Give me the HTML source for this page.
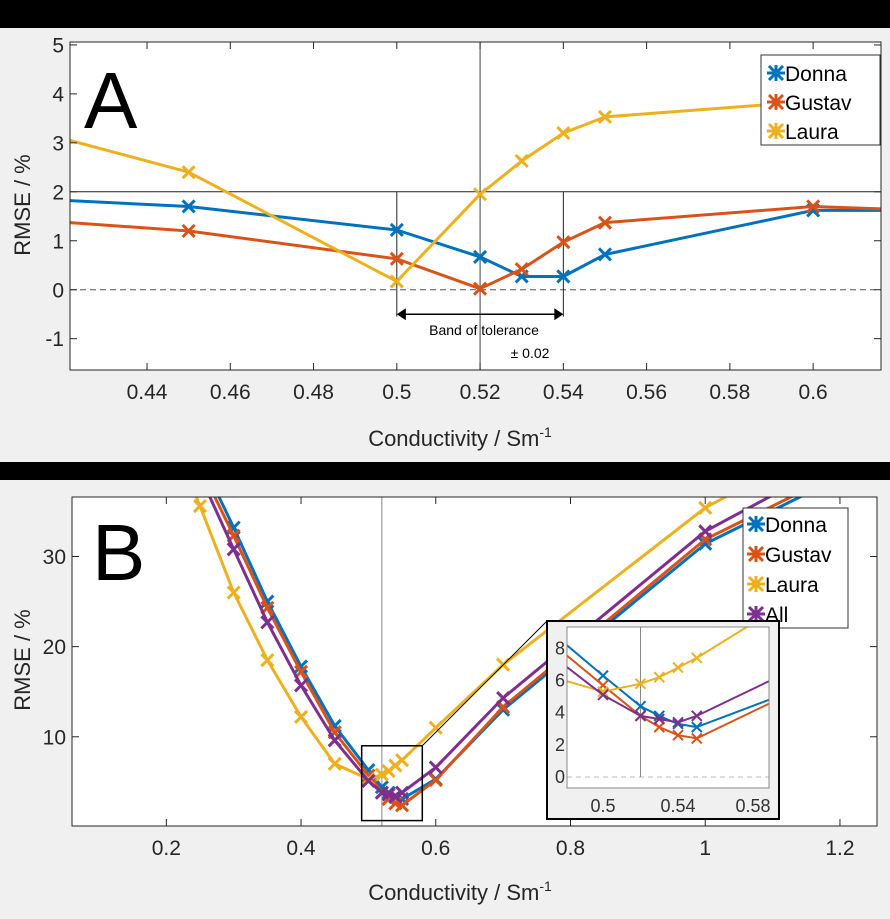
<!DOCTYPE html>
<html><head><meta charset="utf-8"><style>
html,body{margin:0;padding:0;background:#000;}
svg{display:block;font-family:"Liberation Sans",sans-serif;}
</style></head><body>
<svg id="s" width="890" height="919" viewBox="0 0 890 919" xmlns="http://www.w3.org/2000/svg">
<rect x="0" y="0" width="890" height="919" fill="#000"/>
<rect x="0" y="28" width="890" height="434" fill="#f0f0f0"/>
<rect x="0" y="480" width="890" height="439" fill="#f0f0f0"/>
</svg>
<script>
// ---------- Panel A data ----------
const aX = [0.40, 0.45, 0.50, 0.52, 0.53, 0.54, 0.55, 0.60, 0.65];
const aDonna = [1.91, 1.70, 1.22, 0.67, 0.27, 0.27, 0.72, 1.62, 1.62];
const aGustav = [1.50, 1.20, 0.63, 0.02, 0.42, 0.97, 1.37, 1.70, 1.55];
const aLaura = [3.54, 2.40, 0.17, 1.95, 2.63, 3.20, 3.53, 3.85, 3.63];
const aXTicks = [0.44, 0.46, 0.48, 0.5, 0.52, 0.54, 0.56, 0.58, 0.6];
const aYTicks = [-1, 0, 1, 2, 3, 4, 5];
// ---------- Panel B data ----------
const bX = [0.20, 0.25, 0.30, 0.35, 0.40, 0.45, 0.50, 0.52, 0.53, 0.54, 0.55, 0.60, 0.70, 1.00, 1.20];
const bDonna = [50, 41, 33.2, 25.0, 17.8, 11.2, 6.3, 4.4, 3.8, 3.3, 3.1, 5.3, 13.0, 31.4, 38.8];
const bGustav = [49, 40, 32.3, 24.3, 17.2, 10.5, 5.7, 3.8, 3.1, 2.6, 2.4, 5.2, 13.3, 31.9, 39.3];
const bLaura = [45, 35.6, 26.0, 18.5, 12.2, 7.0, 5.3, 5.8, 6.2, 6.8, 7.4, 11.0, 18.0, 35.4, 43.4];
const bAll = [48, 39, 30.8, 22.7, 15.7, 9.6, 5.1, 3.8, 3.6, 3.4, 3.8, 6.6, 14.3, 32.8, 40.8];
const bXTicks = [0.2, 0.4, 0.6, 0.8, 1.0, 1.2];
const bYTicks = [10, 20, 30];
const insetXTicks = [0.5, 0.54, 0.58];
const insetYTicks = [0, 2, 4, 6, 8];
const seriesNames = ["Donna", "Gustav", "Laura", "All"];
const colors = ["#0072BD", "#D95319", "#EDB120", "#7E2F8E"];

const NS = "http://www.w3.org/2000/svg";
const svg = document.getElementById('s');
function mk(tag, attrs, parent) {
  const e = document.createElementNS(NS, tag);
  for (const k in attrs) e.setAttribute(k, attrs[k]);
  (parent || svg).appendChild(e);
  return e;
}
function scale(d0, d1, r0, r1) { return v => r0 + (v - d0) / (d1 - d0) * (r1 - r0); }
function fmt(v) { return String(+v.toFixed(2)); }

function drawSeries(g, xs, ys, sx, sy, color, name, ms, lw, clipId) {
  const lg = mk('g', { 'clip-path': 'url(#' + clipId + ')' }, g);
  
  
  const pts = xs.map((x, i) => sx(x).toFixed(1) + ',' + sy(ys[i]).toFixed(1)).join(' ');
  const pl = mk('polyline', { points: pts, fill: 'none', stroke: color, 'stroke-width': lw, 'stroke-linejoin': 'round' }, lg);
  
  
  xs.forEach((x, i) => {
    const cx = sx(x), cy = sy(ys[i]);
    const m = mk('path', { d: `M${cx - ms},${cy - ms}L${cx + ms},${cy + ms}M${cx - ms},${cy + ms}L${cx + ms},${cy - ms}`, stroke: color, 'stroke-width': lw, fill: 'none' }, lg);
    
    
  });
}

function axesFrame(L, T, R, B, xt, yt, sx, sy, fs, tickLen, prefix) {
  const f = mk('rect', { x: L, y: T, width: R - L, height: B - T, fill: 'none', stroke: '#262626', 'stroke-width': 1 });
  
  
  xt.forEach(v => {
    const x = sx(v);
    mk('line', { x1: x, y1: B, x2: x, y2: B - tickLen, stroke: '#262626' });
    mk('line', { x1: x, y1: T, x2: x, y2: T + tickLen, stroke: '#262626' });
    const t = mk('text', { x: x, y: B + fs + 8, 'font-size': fs, 'text-anchor': 'middle', fill: '#262626' });
    t.textContent = fmt(v);
    
    
  });
  yt.forEach(v => {
    const y = sy(v);
    mk('line', { x1: L, y1: y, x2: L + tickLen, y2: y, stroke: '#262626' });
    mk('line', { x1: R, y1: y, x2: R - tickLen, y2: y, stroke: '#262626' });
    const t = mk('text', { x: L - 6, y: y + fs * 0.36, 'font-size': fs, 'text-anchor': 'end', fill: '#262626' });
    t.textContent = fmt(v);
    
    
  });
}
const defs = mk('defs', {});
function clip(id, L, T, R, B) {
  const c = mk('clipPath', { id: id }, defs);
  mk('rect', { x: L, y: T, width: R - L, height: B - T }, c);
}

// ================= Panel A =================
(function () {
  const L = 70, R = 881, T = 42, B = 370;
  const sx = scale(0.4215, 0.6163, L, R);
  const sy = scale(-1.64, 5.06, B, T);
  mk('rect', { x: L, y: T, width: R - L, height: B - T, fill: '#fff' });
  clip('clipA', L, T, R, B);
  const g = mk('g', {});
  
  
  mk('line', { x1: L, y1: sy(0), x2: R, y2: sy(0), stroke: '#555', 'stroke-dasharray': '6,4', 'stroke-width': 1 }, g);
  mk('line', { x1: L, y1: sy(2), x2: R, y2: sy(2), stroke: '#222', 'stroke-width': 1 }, g);
  mk('line', { x1: sx(0.52), y1: T, x2: sx(0.52), y2: B, stroke: '#444', 'stroke-width': 1 }, g);
  mk('line', { x1: sx(0.5), y1: sy(2), x2: sx(0.5), y2: sy(-0.55), stroke: '#222', 'stroke-width': 1 }, g);
  mk('line', { x1: sx(0.54), y1: sy(2), x2: sx(0.54), y2: sy(-0.55), stroke: '#222', 'stroke-width': 1 }, g);
  const ay = sy(-0.5);
  const ar = mk('g', {}, g);
  
  
  mk('line', { x1: sx(0.5) + 6, y1: ay, x2: sx(0.54) - 6, y2: ay, stroke: '#000', 'stroke-width': 1.5 }, ar);
  mk('path', { d: `M${sx(0.5)},${ay}l9,-6v12z M${sx(0.54)},${ay}l-9,-6v12z`, fill: '#000' }, ar);
  const t1 = mk('text', { x: 484, y: 335, 'font-size': 14, 'text-anchor': 'middle', fill: '#000' }, g);
  t1.textContent = 'Band of tolerance';
  
  
  const t2 = mk('text', { x: 530, y: 358, 'font-size': 14, 'text-anchor': 'middle', fill: '#000' }, g);
  t2.textContent = '± 0.02';
  
  
  const sers = [aDonna, aGustav, aLaura];
  sers.forEach((ys, i) => drawSeries(g, aX, ys, sx, sy, colors[i], 'a-' + seriesNames[i].toLowerCase(), 6, 3, 'clipA'));
  axesFrame(L, T, R, B, aXTicks, aYTicks, sx, sy, 21, 7, 'a');
  const big = mk('text', { x: 84, y: 128, 'font-size': 80, fill: '#000' });
  big.textContent = 'A';
  
  
  const lg = mk('g', {});
  
  
  mk('rect', { x: 761, y: 55, width: 119, height: 90, fill: '#fff', stroke: '#333', 'stroke-width': 1 }, lg);
  ['Donna', 'Gustav', 'Laura'].forEach((n, i) => {
    const y = 73 + i * 29;
    mk('path', { d: `M769,${y - 7}l14,14M769,${y + 7}l14,-14M776,${y - 8}v16M767,${y}h18`, stroke: colors[i], 'stroke-width': 3 }, lg);
    const t = mk('text', { x: 785, y: y + 8, 'font-size': 21, fill: '#000' }, lg);
    t.textContent = n;
    
    
  });
  const yl = mk('text', { x: 0, y: 0, 'font-size': 22, 'text-anchor': 'middle', fill: '#262626', transform: 'translate(30,205) rotate(-90)' });
  yl.textContent = 'RMSE / %';
  
  
  const xl = mk('text', { x: 460, y: 446, 'font-size': 22, 'text-anchor': 'middle', fill: '#262626' });
  xl.innerHTML = 'Conductivity / Sm<tspan dy="-9" font-size="14">-1</tspan>';
  
  
})();

// ================= Panel B =================
(function () {
  const L = 72, R = 877, T = 497, B = 826;
  const sx = scale(0.06, 1.255, L, R);
  const sy = scale(0.1, 36.6, B, T);
  mk('rect', { x: L, y: T, width: R - L, height: B - T, fill: '#fff' });
  clip('clipB', L, T, R, B);
  const g = mk('g', {});
  
  
  mk('line', { x1: sx(0.52), y1: T, x2: sx(0.52), y2: B, stroke: '#888', 'stroke-width': 1 }, g);
  const sers = [bDonna, bGustav, bLaura, bAll];
  sers.forEach((ys, i) => drawSeries(g, bX, ys, sx, sy, colors[i], 'b-' + seriesNames[i].toLowerCase(), 6, 3, 'clipB'));
  axesFrame(L, T, R, B, bXTicks, bYTicks, sx, sy, 21, 7, 'b');
  const big = mk('text', { x: 92, y: 580, 'font-size': 80, fill: '#000' });
  big.textContent = 'B';
  
  
  const lg = mk('g', {});
  
  
  mk('rect', { x: 743, y: 508, width: 105, height: 120, fill: '#fff', stroke: '#333', 'stroke-width': 1 }, lg);
  seriesNames.forEach((n, i) => {
    const y = 524 + i * 30;
    mk('path', { d: `M749,${y - 7}l14,14M749,${y + 7}l14,-14M756,${y - 8}v16M747,${y}h18`, stroke: colors[i], 'stroke-width': 3 }, lg);
    const t = mk('text', { x: 765, y: y + 8, 'font-size': 21, fill: '#000' }, lg);
    t.textContent = n;
    
    
  });
  const zx0 = sx(0.49), zx1 = sx(0.58), zy0 = sy(9), zy1 = sy(0.7);
  const zb = mk('rect', { x: zx0, y: zy0, width: zx1 - zx0, height: zy1 - zy0, fill: 'none', stroke: '#000', 'stroke-width': 1.5 });
  
  
  const cl = mk('line', { x1: zx1, y1: zy0, x2: 547, y2: 621, stroke: '#000', 'stroke-width': 1 });
  
  
  const ig = mk('g', {});
  
  
  mk('rect', { x: 547, y: 621, width: 232, height: 198, fill: '#f0f0f0', stroke: '#000', 'stroke-width': 2 }, ig);
  const iL = 567, iR = 769, iT = 627, iB = 788;
  const isx = scale(0.4808, 0.5885, iL, iR);
  const isy = scale(-0.68, 9.32, iB, iT);
  mk('rect', { x: iL, y: iT, width: iR - iL, height: iB - iT, fill: '#fff' }, ig);
  clip('clipI', iL, iT, iR, iB);
  mk('line', { x1: iL, y1: isy(0), x2: iR, y2: isy(0), stroke: '#bbb', 'stroke-dasharray': '5,4' }, ig);
  mk('line', { x1: isx(0.52), y1: iT, x2: isx(0.52), y2: isy(0), stroke: '#888' }, ig);
  sers.forEach((ys, i) => drawSeries(ig, bX, ys, isx, isy, colors[i], 'inset-' + seriesNames[i].toLowerCase(), 5, 2, 'clipI'));
  mk('rect', { x: iL, y: iT, width: iR - iL, height: iB - iT, fill: 'none', stroke: '#888' }, ig);
  insetXTicks.forEach(v => {
    const t = mk('text', { x: isx(v), y: 812, 'font-size': 18, 'text-anchor': 'middle', fill: '#333' }, ig);
    t.textContent = fmt(v);
    
    
  });
  insetYTicks.forEach(v => {
    const t = mk('text', { x: 565, y: isy(v) + 6, 'font-size': 18, 'text-anchor': 'end', fill: '#333' }, ig);
    t.textContent = fmt(v);
    
    
  });
  const yl = mk('text', { x: 0, y: 0, 'font-size': 22, 'text-anchor': 'middle', fill: '#262626', transform: 'translate(30,660) rotate(-90)' });
  yl.textContent = 'RMSE / %';
  
  
  const xl = mk('text', { x: 460, y: 900, 'font-size': 22, 'text-anchor': 'middle', fill: '#262626' });
  xl.innerHTML = 'Conductivity / Sm<tspan dy="-9" font-size="14">-1</tspan>';
  
  
})();
</script>
</body></html>
